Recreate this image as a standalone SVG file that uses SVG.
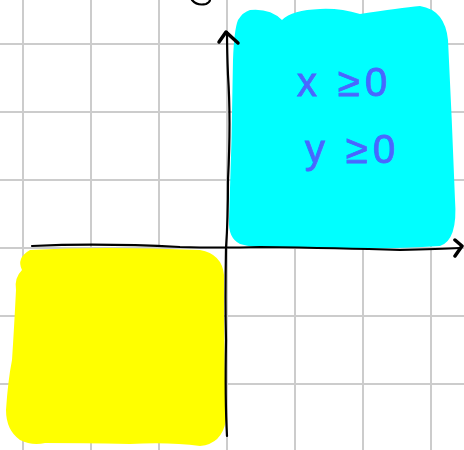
<svg xmlns="http://www.w3.org/2000/svg" width="464" height="450" viewBox="0 0 464 450">
<style>
.grid{stroke:#cccccc;stroke-width:2;fill:none}
.axis{stroke:#000;stroke-width:2.2;fill:none;stroke-linecap:round;stroke-linejoin:round}
.head{stroke:#000;stroke-width:3.5;fill:none;stroke-linecap:round;stroke-linejoin:round}
.lbl{font-family:"Liberation Sans",sans-serif;font-size:40px;letter-spacing:5px;fill:#4a66ff;stroke:#4a66ff;stroke-width:0.8}
</style>
<rect width="464" height="450" fill="#fff"/>
<g id="grid" class="grid">
<path d="M23 0V450M91 0V450M159 0V450M227 0V450M295 0V450M363 0V450M431 0V450"/>
<path d="M0 44H464M0 112H464M0 180H464M0 248H464M0 316H464M0 384H464"/>
</g>
<g id="quadrant1">
<path d="M250 10 Q270 8 282 20 Q292 10 320 9 Q340 8 360 14 Q400 8 420 6 Q445 10 448 40 Q452 120 455 200 Q458 240 440 246 Q380 250 300 247 Q260 250 240 244 Q228 238 229 220 Q232 140 233 60 Q234 30 238 20 Q243 12 250 10Z" fill="#00ffff"/>
</g>
<g id="quadrant3">
<path d="M30 250 Q100 246 200 250 Q222 254 224 275 Q224 360 226 420 Q222 444 200 446 Q170 442 130 444 Q80 443 45 443 Q32 446 20 440 Q6 430 6 410 Q8 380 12 360 Q14 330 16 290 Q14 278 22 270 Q16 258 30 250Z" fill="#ffff00"/>
</g>
<g id="axes">
<path class="axis" d="M227 436 Q225 400 226 340 Q225 300 226 248 Q228 220 228 180 Q231 120 228 75 Q227 50 227 32"/>
<path class="head" d="M219 42 L226 32 L238 43"/>
<path class="axis" d="M32 246 Q100 243 180 247 Q220 248 260 247 Q340 248 400 250 Q440 249 460 248"/>
<path class="head" d="M455 240 L462 246 L455 256"/>
<path class="axis" stroke-width="3" d="M192 0 Q197 6 206 4 Q210 2 210 0"/>
</g>
<g id="labels">
<text class="lbl" x="297" y="96">x ≥0</text>
<text class="lbl" x="305" y="163">y ≥0</text>
</g>
</svg>
